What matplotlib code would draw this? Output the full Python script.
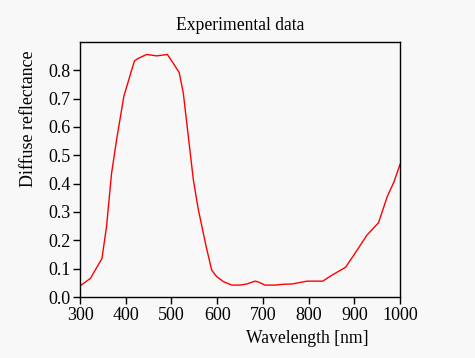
import matplotlib
matplotlib.use('Agg')
import matplotlib.pyplot as plt

# reflectance spectrum
wavelength = [300, 323, 348, 358, 369, 381, 396, 419, 427, 446, 468, 491, 504, 517, 526,
              548, 559, 576, 588, 599, 614, 632, 650, 665, 683, 690, 705, 727, 745, 764,
              797, 831, 848, 881, 899, 928, 953, 972, 987, 1000]
reflectance = [0.039, 0.066, 0.136, 0.248, 0.436, 0.565, 0.709, 0.833, 0.842, 0.856, 0.851,
               0.856, 0.825, 0.792, 0.719, 0.413, 0.307, 0.178, 0.095, 0.072, 0.054, 0.042,
               0.042, 0.046, 0.056, 0.053, 0.042, 0.042, 0.045, 0.046, 0.056, 0.056, 0.074,
               0.105, 0.148, 0.219, 0.262, 0.354, 0.407, 0.468]

plt.rcParams['font.family'] = ['Liberation Serif', 'DejaVu Serif']
bg = '#f8f8f8'

fig = plt.figure(figsize=(4.75, 3.58), dpi=100, facecolor=bg)
ax = fig.add_axes([80/475, 61/358, 320/475, 255/358], facecolor=bg)
ax.plot(wavelength, reflectance, color='red', lw=1.0)

ax.set_xlim(300, 1000)
ax.set_ylim(0, 0.9)
ax.set_xticks(range(300, 1001, 100))
ax.set_yticks([i / 10 for i in range(9)])
ax.set_yticklabels([f'{i / 10:.1f}' for i in range(9)])
ax.tick_params(labelsize=13, length=5, width=1, colors='black', pad=2)
for s in ax.spines.values():
    s.set_linewidth(1)

ax.set_title('Experimental data', fontsize=12.7, pad=9)
ax.set_xlabel('Wavelength [nm]', fontsize=12.7)
ax.xaxis.set_label_coords(0.71, -0.13)
ax.set_ylabel('Diffuse reflectance', fontsize=12.9)
ax.yaxis.set_label_coords(-0.133, 0.70)

fig.savefig('out.png', dpi=100, facecolor=bg)
